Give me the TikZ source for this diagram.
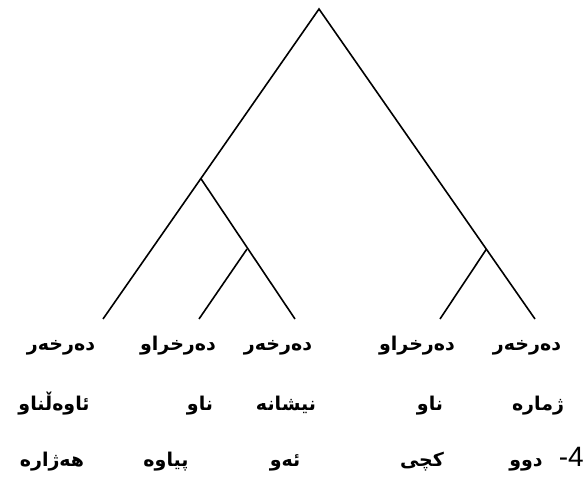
\documentclass[tikz,border=0pt]{standalone}
\usepackage{fontspec}
\TeXXeTstate=1
\newfontfamily\arabicfont[Script=Arabic]{DejaVu Sans}
\newfontfamily\latinfont{Liberation Sans}
\begin{document}
\begin{tikzpicture}[x=1pt,y=-1pt,
  branch/.style={line width=1.6pt, black},
  word/.style={font=\arabicfont\bfseries\fontsize{19}{22}\selectfont, inner sep=0pt, anchor=base},
  num/.style={font=\latinfont\fontsize{28}{30}\selectfont, inner sep=0pt, anchor=base east}]
\useasboundingbox (0,0) rectangle (584,481);
% tree points
\coordinate (root) at (319,9);
\coordinate (A) at (200.5,178);
\coordinate (B) at (247,249);
\coordinate (C) at (486.5,249);
\coordinate (l1) at (103,319);
\coordinate (l2) at (199,319);
\coordinate (l3) at (295,319);
\coordinate (l4) at (440,319);
\coordinate (l5) at (535,319);
\draw[branch] (l1) -- (root) -- (l5);
\draw[branch] (A) -- (l3);
\draw[branch] (B) -- (l2);
\draw[branch] (C) -- (l4);
% row 1
\node[word] (r1a) at (61,350) {\beginR دەرخەر\endR};
\node[word] (r1b) at (178,350) {\beginR دەرخراو\endR};
\node[word] (r1c) at (278,350) {\beginR دەرخەر\endR};
\node[word] (r1d) at (417,350) {\beginR دەرخراو\endR};
\node[word] (r1e) at (527,350) {\beginR دەرخەر\endR};
% row 2
\node[word] (r2a) at (54,410) {\beginR ئاوەڵناو\endR};
\node[word] (r2b) at (200,410) {\beginR ناو\endR};
\node[word] (r2c) at (286,410) {\beginR نیشانە\endR};
\node[word] (r2d) at (430,410) {\beginR ناو\endR};
\node[word] (r2e) at (538,410) {\beginR ژمارە\endR};
% row 3
\node[word] (r3a) at (52,466) {\beginR هەژارە\endR};
\node[word] (r3b) at (166,466) {\beginR پیاوە\endR};
\node[word] (r3c) at (285,466) {\beginR ئەو\endR};
\node[word] (r3d) at (422,466) {\beginR کچی\endR};
\node[word] (r3e) at (526,466) {\beginR دوو\endR};
\node[num] (n4) at (584,466) {-4};
\end{tikzpicture}
\end{document}
